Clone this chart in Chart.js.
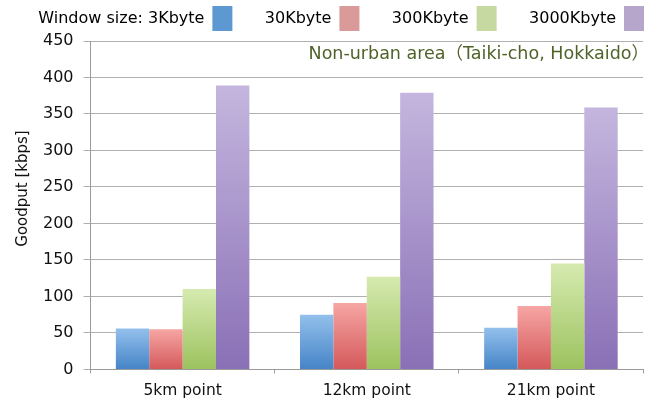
<!DOCTYPE html>
<html>
<head>
<meta charset="utf-8">
<script src="https://cdn.jsdelivr.net/npm/chart.js@4.4.1/dist/chart.umd.min.js"></script>
<style>
  html, body { margin: 0; padding: 0; background: #fff; }
  #wrap { width: 651px; height: 408px; }
</style>
</head>
<body>
<div id="wrap"><canvas id="chart"></canvas></div>
<script>
// values (kbps)
const categories = ["5km point", "12km point", "21km point"];
const windowSizes = ["3Kbyte", "30Kbyte", "300Kbyte", "3000Kbyte"];
const goodput3K = [56, 75, 57];
const goodput30K = [55, 91, 87];
const goodput300K = [110, 127, 145];
const goodput3000K = [389, 379, 359];
const yTicks = [0, 50, 100, 150, 200, 250, 300, 350, 400, 450];
const noteText = "Non-urban area（Taiki-cho, Hokkaido）";
const yTitle = "Goodput [kbps]";

const FONT = "'DejaVu Sans', 'Noto Sans CJK JP', sans-serif";

// [top of bar, bottom of bar, legend swatch]
const palette = [
  ["#93c0ec", "#4584c7", "#5e98d2"],
  ["#f6a6a4", "#d4585a", "#db9a9a"],
  ["#d6eab0", "#9cc25e", "#c6d9a0"],
  ["#c4b6de", "#8a70b6", "#b6a6cc"]
];

function barFill(colors) {
  return function(ctx) {
    const chart = ctx.chart;
    if (ctx.type !== "data" || !chart.chartArea) return colors[2];
    const y = chart.scales.y;
    const top = y.getPixelForValue(ctx.raw);
    const base = y.getPixelForValue(0);
    if (!isFinite(top) || top === base) return colors[1];
    const g = chart.ctx.createLinearGradient(0, top, 0, base);
    g.addColorStop(0, colors[0]);
    g.addColorStop(1, colors[1]);
    return g;
  };
}

const series = [goodput3K, goodput30K, goodput300K, goodput3000K];
const datasets = series.map(function(values, i) {
  return {
    label: windowSizes[i],
    data: values,
    backgroundColor: barFill(palette[i]),
    borderWidth: 0
  };
});

const notePlugin = {
  id: "note",
  afterDraw(chart) {
    const c = chart.ctx, area = chart.chartArea;
    c.save();
    c.font = "17.5px " + FONT;
    c.fillStyle = "#4f6228";
    c.textAlign = "right";
    c.textBaseline = "middle";
    c.fillText(noteText, area.right + 6, area.top + 13);
    c.restore();
  }
};

new Chart(document.getElementById("chart").getContext("2d"), {
  type: "bar",
  data: { labels: categories, datasets: datasets },
  plugins: [notePlugin],
  options: {
    responsive: true,
    maintainAspectRatio: false,
    animation: false,
    layout: { padding: { top: -1, left: 4, right: 0, bottom: 0 } },
    datasets: { bar: { barPercentage: 1.0, categoryPercentage: 0.725 } },
    plugins: {
      tooltip: { enabled: false },
      legend: {
        position: "top",
        align: "start",
        rtl: true,
        reverse: true,
        textDirection: "ltr",
        labels: {
          boxWidth: 20,
          boxHeight: 25,
          padding: 7,
          color: "#222",
          font: { family: FONT, size: 16 },
          generateLabels(chart) {
            return chart.data.datasets.map(function(ds, i) {
              return {
                text: i === 0 ? "Window size: " + ds.label : "     " + ds.label,
                fillStyle: palette[i][2],
                strokeStyle: palette[i][2],
                lineWidth: 0,
                datasetIndex: i,
                hidden: false
              };
            });
          }
        }
      }
    },
    scales: {
      x: {
        grid: { display: true, drawOnChartArea: false, tickLength: 4, color: "#9a9a9a" },
        border: { color: "#9a9a9a" },
        ticks: { color: "#111", padding: 8, font: { family: FONT, size: 15.5 } }
      },
      y: {
        min: 0,
        max: 450,
        afterBuildTicks(scale) {
          scale.ticks = yTicks.map(function(v) { return { value: v }; });
        },
        grid: { color: "#b0b0b0", tickLength: 7 },
        border: { color: "#9a9a9a" },
        ticks: { color: "#111", padding: 10, font: { family: FONT, size: 16 } },
        title: {
          display: true,
          text: "       " + yTitle,
          color: "#111",
          padding: { top: 10, bottom: 1 },
          font: { family: FONT, size: 15 }
        }
      },
      // empty strip that keeps the plot clear of the right edge
      yPad: {
        position: "right",
        display: true,
        grid: { display: false },
        border: { display: false },
        ticks: { display: false },
        afterFit(scale) { scale.width = 8; }
      }
    }
  }
});
</script>
</body>
</html>
